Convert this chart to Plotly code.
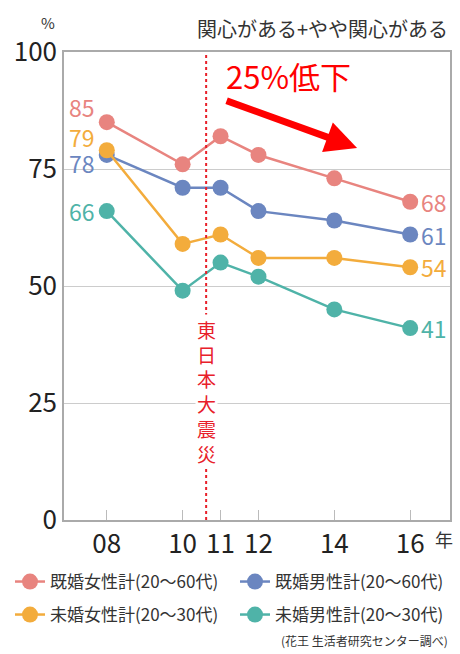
import plotly.graph_objects as go

years = [8, 10, 11, 12, 14, 16]
tick_labels = ["08", "10", "11", "12", "14", "16"]
series_names = ["既婚女性計(20～60代)", "既婚男性計(20～60代)", "未婚女性計(20～30代)", "未婚男性計(20～30代)"]
married_female = [85, 76, 82, 78, 73, 68]
married_male = [78, 71, 71, 66, 64, 61]
unmarried_female = [79, 59, 61, 56, 56, 54]
unmarried_male = [66, 49, 55, 52, 45, 41]
y_ticks = [0, 25, 50, 75, 100]
quake_year = 10.62

colors = ["#E8847F", "#6B86C0", "#F3AC3C", "#4FB3A8"]
values = [married_female, married_male, unmarried_female, unmarried_male]
legend_ids = ["legend", "legend", "legend2", "legend2"]
left_yshift = [15, -8, 13, 0]
right_yshift = [0, 0, 0, 0]

FONT = "Noto Sans CJK JP"

fig = go.Figure()
for name, vals, c, lg in zip(series_names, values, colors, legend_ids):
    fig.add_trace(go.Scatter(
        x=years, y=vals, name=name, mode="lines+markers",
        line=dict(color=c, width=2.5),
        marker=dict(color=c, size=16),
        hoverinfo="skip", legend=lg,
    ))

annotations = []
for vals, c, ls, rs in zip(values, colors, left_yshift, right_yshift):
    annotations.append(dict(x=years[0], y=vals[0], text=str(vals[0]), showarrow=False,
                            xanchor="right", yanchor="middle", xshift=-10, yshift=ls,
                            font=dict(family=FONT, size=23, color=c)))
    annotations.append(dict(x=years[-1], y=vals[-1], text=str(vals[-1]), showarrow=False,
                            xanchor="left", yanchor="middle", xshift=9, yshift=rs,
                            font=dict(family=FONT, size=23, color=c)))

# vertical earthquake label
annotations.append(dict(x=quake_year, y=27.4, text="<br>".join("東日本大震災"), showarrow=False,
                        xanchor="center", yanchor="middle", bgcolor="white",
                        font=dict(family=FONT, size=19, color="#E8202A")))
# 25% decline label and arrow
annotations.append(dict(x=11.08, y=95, text="25%低下", showarrow=False, xanchor="left", yanchor="middle",
                        font=dict(family=FONT, size=31, color="#FF0000")))
annotations.append(dict(x=14.6, y=79.5, ax=11.12, ay=89.7, axref="x", ayref="y", xref="x", yref="y",
                        text="", showarrow=True, arrowhead=2, arrowsize=0.9, arrowwidth=7,
                        arrowcolor="#FF0000"))
# titles/units
annotations.append(dict(xref="paper", yref="paper", x=1, y=1, yshift=24, text="関心がある+やや関心がある",
                        showarrow=False, xanchor="right", yanchor="middle",
                        font=dict(family=FONT, size=20, color="#333333")))
annotations.append(dict(xref="paper", yref="paper", x=0, y=1, xshift=-16, yshift=30, text="%",
                        showarrow=False, xanchor="center", yanchor="middle",
                        font=dict(family=FONT, size=15, color="#333333")))
annotations.append(dict(xref="paper", yref="paper", x=1, y=0, yshift=-19, xshift=-6, text="年",
                        showarrow=False, xanchor="center", yanchor="middle",
                        font=dict(family=FONT, size=18, color="#333333")))
annotations.append(dict(xref="paper", yref="paper", x=1, y=0, yshift=-120, text="(花王 生活者研究センター調べ)",
                        showarrow=False, xanchor="right", yanchor="middle",
                        font=dict(family=FONT, size=12, color="#333333")))

fig.add_shape(type="line", x0=quake_year, x1=quake_year, y0=0, y1=100, xref="x", yref="y",
              line=dict(color="#E8202A", width=2, dash="dot"), layer="above")

legend_style = dict(orientation="h", xref="paper", yref="paper", x=-0.12,
                    xanchor="left", yanchor="top", entrywidth=180, entrywidthmode="pixels",
                    font=dict(family=FONT, size=17, color="#333333"), itemwidth=30,
                    traceorder="normal", bgcolor="rgba(0,0,0,0)")

fig.update_layout(
    width=460, height=654,
    margin=dict(l=64, r=8, t=52, b=134),
    paper_bgcolor="white", plot_bgcolor="white",
    font=dict(family=FONT, color="#222222"),
    showlegend=True,
    legend=dict(y=-0.094, **legend_style),
    legend2=dict(y=-0.1645, **legend_style),
    annotations=annotations,
    xaxis=dict(range=[6.872, 17.05], tickvals=years, ticktext=tick_labels,
               ticks="inside", ticklen=10, tickcolor="#BBBBBB", tickwidth=1,
               showgrid=False, zeroline=False, showline=True, linecolor="#AAAAAA",
               linewidth=1.5, mirror=True, tickfont=dict(family=FONT, size=26, color="#222222")),
    yaxis=dict(range=[0, 100], tickvals=y_ticks, showgrid=True, gridcolor="#CCCCCC", gridwidth=1,
               zeroline=False, showline=True, linecolor="#AAAAAA", linewidth=1.5, mirror=True,
               ticks="", tickfont=dict(family=FONT, size=26, color="#222222")),
)

fig.write_html("out.html", config={"displayModeBar": False},
               post_script="document.body.style.margin='0';document.body.style.overflow='hidden';")
